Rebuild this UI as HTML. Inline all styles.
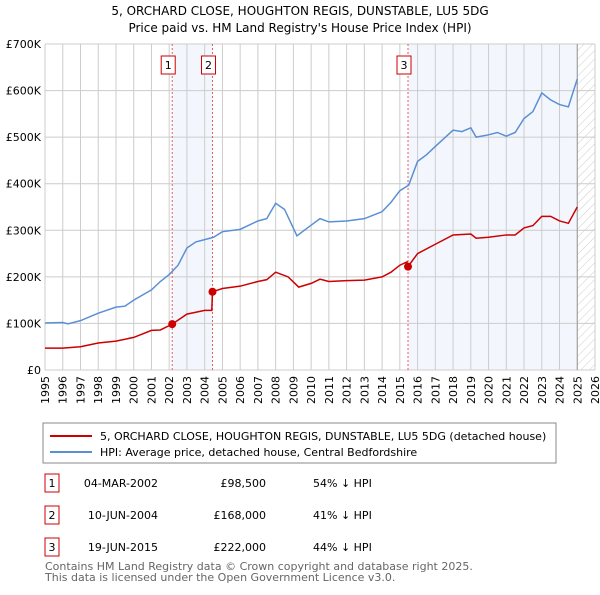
<!DOCTYPE html>
<html><head><meta charset="utf-8"><style>
body{margin:0;background:#fff;font-family:"Liberation Sans","DejaVu Sans",sans-serif;}
svg text{font-family:"DejaVu Sans","Liberation Sans",sans-serif;}
</style></head><body>
<svg id="c" width="600" height="590" xmlns="http://www.w3.org/2000/svg">
<defs><pattern id="hatch" width="6" height="6" patternUnits="userSpaceOnUse" patternTransform="rotate(45)"><line x1="0" y1="0" x2="0" y2="6" stroke="#ccc" stroke-width="1"/></pattern></defs>
<text x="300" y="15" text-anchor="middle" font-size="12" fill="#000">5, ORCHARD CLOSE, HOUGHTON REGIS, DUNSTABLE, LU5 5DG</text>
<text x="300" y="32" text-anchor="middle" font-size="12" fill="#000">Price paid vs. HM Land Registry's House Price Index (HPI)</text>
<g id="plot"></g>
<rect x="43" y="423" width="513" height="40" fill="#fff" stroke="#888"/>
<line x1="50" y1="436" x2="92" y2="436" stroke="#cc0000" stroke-width="2"/>
<text x="100" y="440" font-size="11">5, ORCHARD CLOSE, HOUGHTON REGIS, DUNSTABLE, LU5 5DG (detached house)</text>
<line x1="50" y1="452" x2="92" y2="452" stroke="#5b8fd4" stroke-width="2"/>
<text x="100" y="456" font-size="11">HPI: Average price, detached house, Central Bedfordshire</text>
<g font-size="11">
<rect x="45" y="474" width="14" height="18" fill="none" stroke="#cc0000"/><text x="52" y="487" text-anchor="middle">1</text>
<text x="158" y="487" text-anchor="end">04-MAR-2002</text><text x="266" y="487" text-anchor="end">£98,500</text><text x="313" y="487">54% ↓ HPI</text>
<rect x="45" y="506" width="14" height="18" fill="none" stroke="#cc0000"/><text x="52" y="519" text-anchor="middle">2</text>
<text x="158" y="519" text-anchor="end">10-JUN-2004</text><text x="266" y="519" text-anchor="end">£168,000</text><text x="313" y="519">41% ↓ HPI</text>
<rect x="45" y="538" width="14" height="18" fill="none" stroke="#cc0000"/><text x="52" y="551" text-anchor="middle">3</text>
<text x="158" y="551" text-anchor="end">19-JUN-2015</text><text x="266" y="551" text-anchor="end">£222,000</text><text x="313" y="551">44% ↓ HPI</text>
</g>
<text x="45" y="570" font-size="11" fill="#666">Contains HM Land Registry data © Crown copyright and database right 2025.</text>
<text x="45" y="581" font-size="11" fill="#666">This data is licensed under the Open Government Licence v3.0.</text>
</svg>
<script>
const hpiYears=[1995,1996,1996.3,1997,1998,1999,1999.5,2000,2001,2001.5,2002,2002.5,2003,2003.5,2004,2004.5,2005,2006,2007,2007.5,2008,2008.5,2009.2,2010,2010.5,2011,2012,2013,2014,2014.5,2015,2015.5,2016,2016.5,2017,2018,2018.5,2019,2019.3,2020,2020.5,2021,2021.5,2022,2022.5,2023,2023.5,2024,2024.5,2025];
const hpiValues=[101,102,99,106,122,135,137,150,172,190,205,225,262,275,280,285,297,302,320,325,358,345,288,311,325,318,320,325,340,360,385,397,448,462,480,515,512,520,500,505,510,502,510,540,555,595,580,570,565,625];
const priceYears=[1995,1996,1997,1998,1999,2000,2001,2001.5,2002.17,2003,2004,2004.4,2004.44,2005,2006,2007,2007.5,2008,2008.7,2009.3,2010,2010.5,2011,2012,2013,2014,2014.5,2015,2015.4,2015.46,2016,2017,2018,2019,2019.3,2020,2021,2021.5,2022,2022.5,2023,2023.5,2024,2024.5,2025];
const priceValues=[47,47,50,58,62,70,85,86,98.5,120,128,128,168,175,180,190,194,210,200,178,186,195,190,192,193,200,210,225,232,222,250,270,290,292,283,285,290,290,305,310,330,330,320,315,350];
const saleYears=[2002.17,2004.44,2015.46];
const saleValues=[98.5,168,222];
const saleLabels=["1","2","3"];
const yTicks=[0,100,200,300,400,500,600,700];
const yTickLabels=["£0","£100K","£200K","£300K","£400K","£500K","£600K","£700K"];
const xTicks=[1995,1996,1997,1998,1999,2000,2001,2002,2003,2004,2005,2006,2007,2008,2009,2010,2011,2012,2013,2014,2015,2016,2017,2018,2019,2020,2021,2022,2023,2024,2025,2026];
const X0=45,X1=595,Y0=370,Y1=44;
const xs=y=>X0+(y-1995)/(2026-1995)*(X1-X0);
const ys=v=>Y0-v/700*(Y0-Y1);
const NS="http://www.w3.org/2000/svg";
const g=document.getElementById('plot');
function mk(t,a){const e=document.createElementNS(NS,t);for(const k in a)e.setAttribute(k,a[k]);g.appendChild(e);return e;}
let e;
e=mk('rect',{x:xs(saleYears[0]),y:Y1,width:xs(saleYears[1])-xs(saleYears[0]),height:Y0-Y1,fill:'#eef3fc',opacity:0.7});


e=mk('rect',{x:xs(saleYears[2]),y:Y1,width:xs(2025)-xs(saleYears[2]),height:Y0-Y1,fill:'#eef3fc',opacity:0.7});


e=mk('rect',{x:xs(2025),y:Y1,width:X1-xs(2025),height:Y0-Y1,fill:'url(#hatch)'});


xTicks.forEach(t=>{
 e=mk('line',{x1:xs(t),x2:xs(t),y1:Y1,y2:Y0,stroke:'#ccc','stroke-width':1});
 
 
 e=mk('text',{x:0,y:0,'font-size':11,'text-anchor':'end',transform:`translate(${xs(t)+4},${Y0+6}) rotate(-90)`});
 e.textContent=t;
 
 
});
yTicks.forEach((t,i)=>{
 e=mk('line',{x1:X0,x2:X1,y1:ys(t),y2:ys(t),stroke:'#ccc','stroke-width':1});
 
 
 e=mk('text',{x:X0-4,y:ys(t)+4,'font-size':11,'text-anchor':'end'});
 e.textContent=yTickLabels[i];
 
 
});
e=mk('line',{x1:xs(2025),x2:xs(2025),y1:Y1,y2:Y0,stroke:'#999','stroke-width':1});


saleYears.forEach((s,i)=>{
 e=mk('line',{x1:xs(s),x2:xs(s),y1:Y1,y2:Y0,stroke:'#e06060','stroke-width':1,'stroke-dasharray':'2,2'});
 
 
 e=mk('rect',{x:xs(s)-11,y:56,width:14,height:18,fill:'#fff',stroke:'#cc0000'});
 
 
 e=mk('text',{x:xs(s)-4,y:69,'font-size':11,'text-anchor':'middle'});
 e.textContent=saleLabels[i];
 
 
});
e=mk('polyline',{points:hpiYears.map((y,i)=>xs(y)+','+ys(hpiValues[i])).join(' '),fill:'none',stroke:'#5b8fd4','stroke-width':1.5});


e=mk('polyline',{points:priceYears.map((y,i)=>xs(y)+','+ys(priceValues[i])).join(' '),fill:'none',stroke:'#cc0000','stroke-width':1.5});


saleYears.forEach((s,i)=>{
 e=mk('circle',{cx:xs(s),cy:ys(saleValues[i]),r:4,fill:'#cc0000'});
 
 
});
</script>
</body></html>
